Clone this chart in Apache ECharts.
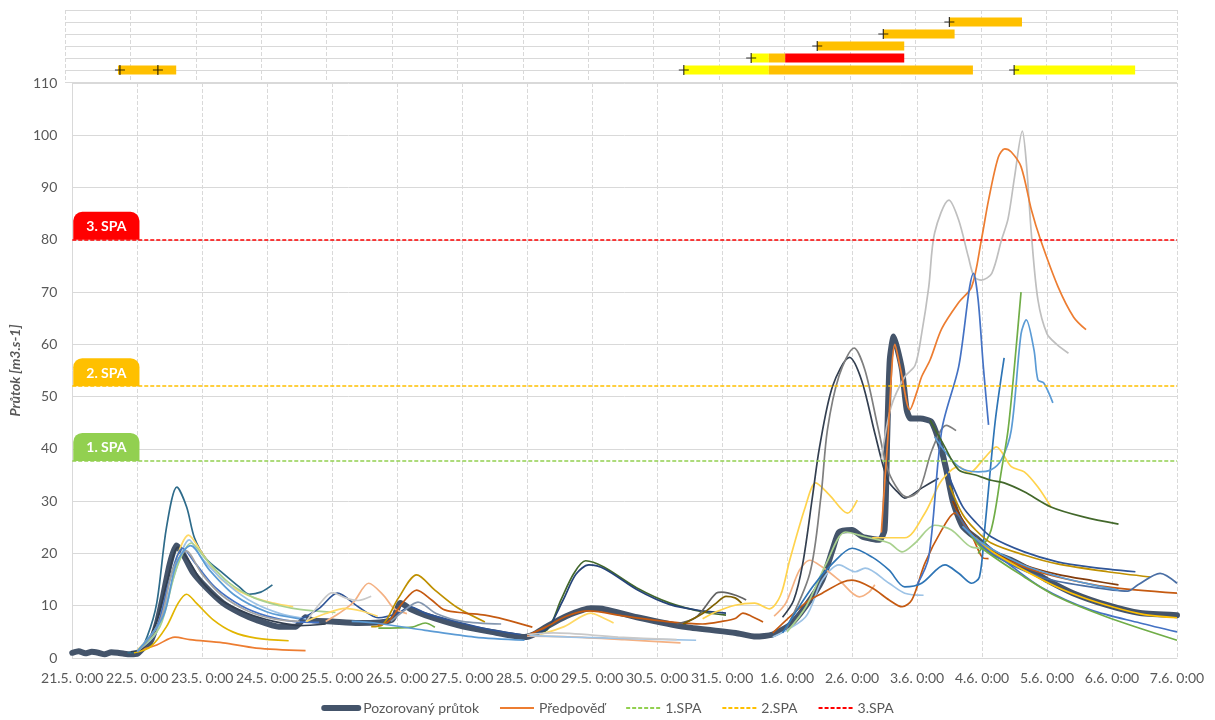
<!DOCTYPE html>
<html>
<head>
<meta charset="utf-8">
<script src="https://cdn.jsdelivr.net/npm/echarts@6/dist/echarts.min.js"></script>
<style>
  html, body { margin: 0; padding: 0; background: #fff; }
  #chart { width: 1215px; height: 720px; }
</style>
</head>
<body>
<div id="chart"></div>
<script>
// x = days since 21.5. 0:00
const tickLabels = ['21.5. 0:00', '22.5. 0:00', '23.5. 0:00', '24.5. 0:00', '25.5. 0:00', '26.5. 0:00',
  '27.5. 0:00', '28.5. 0:00', '29.5. 0:00', '30.5. 0:00', '31.5. 0:00', '1.6. 0:00', '2.6. 0:00',
  '3.6. 0:00', '4.6. 0:00', '5.6. 0:00', '6.6. 0:00', '7.6. 0:00']

const spaNames = ['1.SPA', '2.SPA', '3.SPA']
const spaLabels = ['1. SPA', '2. SPA', '3. SPA']
const spaLevels = [37.7, 52, 80]

// top panel: [row, start, end, SPA level]
const warnBars = [
  [1, 0.81, 1.70, 2],
  [1, 9.46, 10.76, 1],
  [1, 10.76, 13.88, 2],
  [1, 14.51, 16.36, 1],
  [2, 10.49, 10.76, 1],
  [2, 10.76, 11.01, 2],
  [2, 11.01, 12.83, 3],
  [3, 11.5, 12.83, 2],
  [4, 12.51, 13.6, 2],
  [5, 13.52, 14.63, 2]
]
const issueMarks = [[0.84, 1], [1.42, 1], [9.46, 1], [14.51, 1], [10.49, 2], [11.5, 3], [12.51, 4], [13.52, 5]]

// pozorovany prutok
const observed = [[0, 1.0], [0.1, 1.3], [0.2, 0.9], [0.3, 1.2], [0.4, 1.0], [0.5, 0.7], [0.6, 1.1], [0.7, 1.0],
  [0.8, 0.8], [0.9, 0.7], [1.0, 0.8], [1.1, 2.0], [1.2, 3.0], [1.3, 6.5], [1.4, 12], [1.5, 18], [1.6, 21.5],
  [1.7, 20], [1.85, 16.5], [2.06, 13.5], [2.32, 10.5], [2.6, 8.5], [2.83, 7.3], [3.18, 6], [3.44, 6],
  [3.59, 7.8], [3.7, 7.2], [4.0, 7.0], [4.4, 6.7], [4.92, 7.3], [5.05, 10.5], [5.23, 9.2], [5.43, 8.2],
  [5.93, 6.3], [6.45, 5], [6.96, 4], [7.1, 4.5], [7.3, 6], [7.6, 8], [7.98, 9.5], [8.2, 9.3], [8.69, 7.8],
  [9.45, 5.9], [10.21, 4.8], [10.52, 4.1], [10.78, 4.5], [11.04, 6.3], [11.28, 9.8], [11.54, 14.9],
  [11.7, 20.7], [11.8, 24.1], [12.0, 24.5], [12.16, 23.2], [12.42, 22.6], [12.5, 24.5], [12.54, 42],
  [12.58, 57], [12.64, 61.5], [12.7, 59], [12.77, 55], [12.84, 47.5], [12.9, 45.8], [13.05, 45.8],
  [13.22, 45.2], [13.35, 41], [13.45, 36], [13.55, 30], [13.7, 25.2], [13.94, 22.6], [14.19, 20],
  [14.45, 18.7], [14.8, 16.4], [15.0, 14.9], [15.4, 12.4], [15.93, 10.1], [16.43, 8.6], [17, 8.2]]

// predpovedi - 22.5.
const fcE1 = [[0.85, 1.0], [1.02, 1.3], [1.15, 4], [1.3, 10.5], [1.45, 25], [1.61, 32.7], [1.76, 28.9], [1.88, 23],
  [2.06, 19], [2.32, 16.2], [2.57, 13.6], [2.72, 12.2], [2.9, 12.6], [3.08, 14]]
const fcE2 = [[0.95, 1], [1.2, 2.1], [1.45, 6], [1.63, 10.5], [1.76, 12.2], [1.91, 10.5], [2.17, 7.3], [2.47, 5],
  [2.83, 3.8], [3.33, 3.3]]
const fcE3 = [[1.04, 1.5], [1.3, 2.5], [1.58, 4], [1.81, 3.5], [2.32, 2.9], [2.83, 1.9], [3.59, 1.4]]
const fcE4 = [[0.9, 1.2], [1.1, 2], [1.3, 7], [1.45, 14], [1.63, 21.2], [1.8, 18.5], [2.0, 14.5], [2.3, 11],
  [2.7, 8.5], [3.1, 7], [3.5, 6.2], [3.9, 6.5]]
const fcE5 = [[1.0, 1.5], [1.3, 6], [1.55, 17], [1.79, 23.5], [2.0, 20], [2.3, 15], [2.7, 12], [3.1, 10.5], [3.4, 9.8]]
const fcE6 = [[1.0, 1.3], [1.3, 5], [1.55, 15], [1.8, 22.6], [2.0, 19], [2.4, 14], [2.8, 10.5], [3.2, 8.5], [3.6, 7.5]]
const fcE7 = [[1.0, 1.3], [1.35, 6], [1.6, 17], [1.83, 22], [2.05, 19], [2.4, 14.5], [2.8, 11.5], [3.2, 10],
  [3.5, 9.3], [4.05, 8.7]]
const fcE8 = [[1.0, 1.2], [1.3, 6], [1.5, 15], [1.7, 21], [1.9, 18], [2.2, 13.5], [2.6, 10], [3.0, 8], [3.4, 7], [3.8, 6.8]]
const fcE9 = [[1.0, 1.2], [1.35, 7], [1.55, 17], [1.75, 20.5], [2.0, 16], [2.3, 12], [2.7, 9], [3.1, 7.5], [3.5, 7]]
const fcE10 = [[1.0, 1.3], [1.4, 8], [1.6, 18], [1.82, 21.5], [2.1, 17], [2.5, 12], [3.0, 8.8], [3.5, 7.5]]

// 25.5. - 28.5.
const fcM1 = [[3.5, 7.3], [3.8, 9.5], [4.08, 12.4], [4.4, 9.8], [4.71, 7.7], [5.0, 8.5], [5.2, 9.8], [5.45, 8.5],
  [5.9, 7], [6.4, 5.5], [6.9, 4.5]]
const fcM2 = [[3.9, 7], [4.1, 8.5], [4.33, 10.7], [4.56, 14.3], [4.79, 12], [4.95, 9.5], [5.15, 8.5]]
const fcM3 = [[3.6, 7], [3.85, 11], [4.0, 12.5], [4.2, 11.5], [4.4, 11], [4.6, 11.8]]
const fcM4 = [[3.6, 7], [3.9, 8.5], [4.2, 9.5], [4.45, 9], [4.7, 8]]
const fcM5 = [[4.6, 6], [4.77, 6.3], [5.02, 11.5], [5.3, 15.9], [5.58, 13], [5.93, 9.6], [6.35, 6.9]]
const fcM6 = [[4.7, 6.3], [4.86, 6.9], [5.08, 10.5], [5.3, 13], [5.53, 11.1], [5.73, 9.2], [6.04, 8.6], [6.35, 8.2],
  [6.65, 7.4], [7.08, 5.9]]
const fcM7 = [[4.71, 5.7], [5.23, 5.9], [5.43, 6.7], [5.58, 5.9]]
const fcM8 = [[4.3, 7], [4.66, 6.7], [5.43, 5.3], [6.19, 4], [6.96, 3.4]]
const fcM9 = [[4.9, 7], [5.1, 9], [5.32, 10.7], [5.6, 8.5], [6.0, 7], [6.6, 6.5]]

// 29.5. - 1.6.
const fcP1 = [[7.0, 4.5], [7.31, 5.4], [7.52, 11.1], [7.72, 16.2], [7.9, 18.6], [8.18, 17.4], [8.69, 13.4],
  [9.2, 10.5], [9.71, 8.8], [10.06, 8.2]]
const fcP2 = [[7.0, 4.5], [7.3, 5.5], [7.55, 11], [7.75, 16], [7.95, 17.8], [8.2, 17], [8.7, 13], [9.2, 10.2],
  [9.7, 9], [10.06, 8.6]]
const fcP3 = [[7.2, 4.5], [7.57, 6], [7.98, 8.6], [8.15, 7.8], [8.33, 6.7]]
const fcP4 = [[7.0, 4.2], [7.57, 4.1], [8.5, 3.5], [9.36, 2.9]]
const fcP5 = [[7.0, 4.3], [7.67, 4], [8.6, 3.7], [9.6, 3.4]]
const fcP6 = [[7.0, 4.3], [7.3, 6], [7.6, 8], [7.95, 9], [8.5, 8], [9.2, 6.9], [9.7, 6.5], [10.0, 7], [10.21, 7.6],
  [10.32, 8.6], [10.45, 8], [10.63, 6.9]]
const fcP7 = [[9.3, 6.5], [9.6, 7.8], [9.91, 12.4], [10.0, 12.6], [10.21, 12], [10.37, 11.1]]
const fcP8 = [[9.4, 6.5], [9.7, 8.5], [9.91, 10.5], [10.06, 11.8], [10.2, 11.5], [10.3, 10.5]]
const fcP9 = [[9.7, 7.5], [9.9, 8.8], [10.2, 10.1], [10.5, 10.5], [10.73, 9.4], [10.9, 12], [11.04, 18.7],
  [11.28, 28.9], [11.44, 33.5], [11.65, 31.2], [11.93, 27.7], [12.08, 30.2]]
const fcP10 = [[7.0, 4.5], [7.4, 4.8], [8.4, 4], [9.3, 3.5]]

// 1.6. - 4.6.
const fcB1 = [[10.93, 7.8], [11.1, 11], [11.24, 18], [11.39, 30.8], [11.5, 40.4], [11.7, 52], [11.96, 57.5],
  [12.15, 53], [12.35, 43], [12.55, 34], [12.72, 31.5], [12.81, 30.6], [13.07, 32.5], [13.33, 34.4]]
const fcB2 = [[10.98, 5.4], [11.35, 16.2], [11.52, 30.8], [11.62, 43.6], [11.8, 54], [12.03, 59.3], [12.2, 55],
  [12.4, 44], [12.55, 36], [12.72, 32], [12.85, 30.8], [13.03, 32], [13.23, 39.8], [13.45, 44.5], [13.6, 43.5]]
const fcB3 = [[12.45, 38], [12.6, 48], [12.81, 53.8], [12.97, 56], [13.07, 62], [13.18, 71], [13.27, 81.3],
  [13.49, 87.6], [13.64, 83.8], [13.79, 76.7], [13.88, 72.9], [13.99, 72.3], [14.15, 73.6], [14.3, 80],
  [14.4, 84], [14.5, 92], [14.62, 100.8], [14.68, 95], [14.76, 81], [14.86, 68.5], [15.0, 62], [15.15, 60],
  [15.33, 58.3]]
const fcB4 = [[12.45, 24], [12.55, 42], [12.66, 60], [12.75, 55], [12.89, 47.5], [13.0, 51], [13.07, 53.8],
  [13.2, 57], [13.38, 63], [13.64, 68], [13.84, 71], [13.99, 80], [14.1, 87.6], [14.25, 95.8], [14.35, 97.4],
  [14.45, 96.8], [14.6, 94], [14.76, 85.7], [14.9, 80], [15.17, 71], [15.41, 65.2], [15.6, 62.8]]
const fcB5 = [[13.0, 14], [13.18, 19.3], [13.38, 43.6], [13.64, 55.7], [13.87, 73.6], [13.94, 68.5],
  [14.02, 55.7], [14.1, 44.6]]
const fcB6 = [[10.93, 4.8], [11.39, 13.6], [11.7, 18.1], [12.0, 21], [12.31, 19.3], [12.57, 16.8], [12.81, 13.6],
  [13.07, 14.3], [13.43, 17.8], [13.64, 16.2], [13.84, 14.3], [13.96, 15.5], [14.04, 24.5], [14.2, 45],
  [14.34, 57.4]]
const fcB7 = [[13.27, 42.3], [13.64, 36.6], [13.94, 35.6], [14.14, 36], [14.3, 38], [14.45, 43.6], [14.6, 62],
  [14.68, 64.7], [14.8, 58.9], [14.86, 53.2], [14.95, 52.6], [15.09, 48.8]]
const fcB8 = [[13.94, 20], [14.14, 24.5], [14.3, 36], [14.4, 43.6], [14.5, 56], [14.6, 70]]
const fcB9 = [[11.0, 5], [11.3, 10], [11.6, 18], [11.9, 24.1], [12.2, 23.2], [12.57, 22], [12.77, 20.3],
  [12.97, 22], [13.27, 25.4], [13.53, 24.5], [13.84, 21.2], [14.04, 21]]
const fcB10 = [[12.31, 23], [12.81, 23], [13.12, 27.7], [13.38, 34], [13.64, 36.6], [13.8, 35.4], [14.04, 38.3],
  [14.22, 40.4], [14.45, 36.6], [14.65, 35.6], [14.86, 32.7], [15.06, 28.9]]
const fcB11 = [[13.2, 45.5], [13.4, 41], [13.64, 36], [13.9, 35], [14.14, 34], [14.34, 33.5], [14.65, 31.8],
  [15.06, 28.9], [15.56, 27], [16.1, 25.6]]
const fcB12 = [[10.78, 4], [11.28, 7.8], [11.54, 14.9], [11.8, 17.8], [12.05, 16.5], [12.2, 17.2], [12.57, 14.3],
  [12.81, 12.4], [13.1, 12]]
const fcB13 = [[10.8, 8], [10.98, 10.5], [11.19, 16.8], [11.35, 18.7], [11.54, 17.4], [11.8, 14.9], [12.11, 11.7],
  [12.26, 12.6], [12.35, 14]]
const fcB14 = [[10.78, 4.8], [11.28, 10.5], [11.54, 12.4], [11.85, 14.5], [12.0, 14.9], [12.31, 13.4],
  [12.57, 11.1], [12.77, 9.8], [12.92, 11.1], [13.12, 18.1], [13.38, 24.5], [13.58, 27.7], [13.8, 24.5],
  [14.0, 19.3], [14.1, 19]]

// 4.6. - 7.6.
const fcL1 = [[13.45, 36], [13.7, 29], [13.9, 26], [14.14, 23.2], [14.65, 20.3], [15.16, 18.4], [15.67, 17.4], [16.36, 16.5]]
const fcL2 = [[13.5, 33], [13.7, 27.5], [13.9, 24.5], [14.14, 22], [14.65, 19.7], [15.16, 18], [15.93, 16.5], [16.59, 15.5]]
const fcL3 = [[13.55, 30], [13.8, 24], [14.14, 20.7], [14.65, 17.4], [15.16, 15.5], [15.93, 13.6], [17, 12.4]]
const fcL4 = [[13.55, 30], [13.8, 24.5], [14.14, 20.5], [14.65, 17.8], [15.16, 16], [15.7, 14.8], [16.1, 14]]
const fcL5 = [[13.6, 28], [13.85, 23.5], [14.14, 20], [14.9, 15.5], [15.67, 13.6], [16.24, 12.8], [16.4, 14],
  [16.74, 16.2], [17, 14.3]]
const fcL6 = [[13.7, 25.2], [14.0, 21.5], [14.3, 19], [14.9, 13.6], [15.67, 9.2], [16.43, 6.7], [17, 5]]
const fcL7 = [[13.8, 24], [14.0, 21], [14.65, 15.5], [15.16, 11.7], [15.93, 7.8], [17, 3.4]]
const fcL8 = [[13.9, 23], [14.2, 20], [15.0, 14.5], [15.5, 11.8], [16.0, 9.8], [16.5, 8.3], [17, 7.7]]
const fcL9 = [[13.7, 25.2], [14.0, 22], [14.6, 18], [15.2, 15.5], [15.7, 14], [16.1, 13]]

const font = 'Lato, "Noto Sans", sans-serif'
const spaColors = ['#FFFF00', '#FFC000', '#FF0000']
const spaLineColors = ['#92D050', '#FFC000', '#FF0000']

const forecasts = [
  [fcE3, '#ED7D31'], [fcE1, '#2E6B8A'], [fcE2, '#E2B500'], [fcE4, '#333F50'], [fcE5, '#FFD966'],
  [fcE6, '#9DC3E6'], [fcE7, '#A9D18E'], [fcE8, '#4472C4'], [fcE9, '#A5A5A5'], [fcE10, '#5B9BD5'],
  [fcM1, '#2F5597'], [fcM2, '#F4B183'], [fcM3, '#C9C9C9'], [fcM4, '#FFD966'], [fcM5, '#BF9000'],
  [fcM6, '#C55A11'], [fcM7, '#70AD47'], [fcM8, '#5B9BD5'], [fcM9, '#8497B0'],
  [fcP1, '#43682B'], [fcP2, '#264478'], [fcP3, '#FFD966'], [fcP4, '#F4B183'], [fcP5, '#9DC3E6'],
  [fcP6, '#C55A11'], [fcP7, '#636363'], [fcP8, '#7F6000'], [fcP9, '#FFD34D'], [fcP10, '#C9C9C9'],
  [fcB12, '#9DC3E6'], [fcB13, '#F4B183'], [fcB14, '#C55A11'], [fcB9, '#A9D18E'], [fcB10, '#FFD34D'],
  [fcB1, '#333F50'], [fcB2, '#7F7F7F'], [fcB3, '#BFBFBF'], [fcB4, '#ED7D31'], [fcB5, '#4472C4'],
  [fcB6, '#2E75B6'], [fcB7, '#5B9BD5'], [fcB8, '#70AD47'], [fcB11, '#43682B'],
  [fcL1, '#2F5597'], [fcL2, '#BF9000'], [fcL3, '#C55A11'], [fcL4, '#843C0C'], [fcL5, '#4A6FA5'],
  [fcL6, '#4472C4'], [fcL7, '#70AD47'], [fcL8, '#FFC000'], [fcL9, '#5B9BD5']
]

const chart = echarts.init(document.getElementById('chart'))

const series = []
series.push({
  name: 'Pozorovaný průtok',
  type: 'line',
  xAxisIndex: 1,
  yAxisIndex: 1,
  data: observed,
  smooth: 0.2,
  symbol: 'none',
  lineStyle: { color: '#44546A', width: 6, cap: 'round' },
  itemStyle: { color: '#44546A' }
})
forecasts.forEach(([pts, color]) => {
  series.push({
    name: 'Předpověď',
    type: 'line',
    xAxisIndex: 1,
    yAxisIndex: 1,
    data: pts,
    smooth: 0.3,
    symbol: 'none',
    lineStyle: { color, width: 1.7 },
    itemStyle: { color }
  })
})
spaNames.forEach((name, i) => {
  series.push({
    name,
    type: 'line',
    xAxisIndex: 1,
    yAxisIndex: 1,
    data: [],
    symbol: 'none',
    lineStyle: { color: spaLineColors[i], type: [4, 2], width: 1.5 },
    itemStyle: { color: spaLineColors[i] },
    markLine: {
      silent: true,
      symbol: 'none',
      data: [{ yAxis: spaLevels[i] }],
      lineStyle: { color: spaLineColors[i], type: [4, 2], width: 1.5 },
      label: {
        show: true,
        position: 'insideStartTop',
        formatter: spaLabels[i],
        color: '#fff',
        fontWeight: 'bold',
        fontSize: 14,
        fontFamily: font,
        backgroundColor: spaLineColors[i],
        padding: [8, 13, 6, 13],
        borderRadius: [9, 9, 0, 0],
        distance: [1, 0]
      }
    }
  })
})
// horni panel - varovani
series.push({
  type: 'custom',
  xAxisIndex: 0,
  yAxisIndex: 0,
  data: warnBars,
  encode: { x: [1, 2], y: 0 },
  renderItem: (params, api) => {
    const s = api.coord([api.value(1), api.value(0)])
    const e = api.coord([api.value(2), api.value(0)])
    const h = api.size([0, 1])[1] * 0.75
    return {
      type: 'rect',
      shape: { x: s[0], y: s[1] - h / 2, width: e[0] - s[0], height: h },
      style: { fill: spaColors[api.value(3) - 1] }
    }
  }
})
series.push({
  type: 'scatter',
  xAxisIndex: 0,
  yAxisIndex: 0,
  data: issueMarks,
  symbol: 'path://M4.4,0H5.6V4.4H10V5.6H5.6V10H4.4V5.6H0V4.4H4.4Z',
  symbolSize: 10,
  itemStyle: { color: '#000' },
  z: 5
})

const option = {
  animation: false,
  textStyle: { fontFamily: font },
  grid: [
    { left: 65, right: 38, top: 10, height: 72 },
    { left: 65, right: 38, top: 83, bottom: 62 }
  ],
  legend: {
    bottom: 0,
    itemGap: 20,
    itemWidth: 34,
    itemHeight: 10,
    itemStyle: { opacity: 0 },
    textStyle: { color: '#595959', fontSize: 14, fontFamily: font },
    data: [
      { name: 'Pozorovaný průtok', lineStyle: { width: 6, cap: 'round' } },
      { name: 'Předpověď', lineStyle: { color: '#ED7D31', width: 2 } },
      '1.SPA', '2.SPA', '3.SPA'
    ]
  },
  xAxis: [
    {
      gridIndex: 0, type: 'value', min: 0, max: 17, interval: 1,
      axisLabel: { show: false }, axisLine: { show: false }, axisTick: { show: false },
      splitLine: { lineStyle: { color: '#D9D9D9', type: 'dashed' } }
    },
    {
      gridIndex: 1, type: 'value', min: 0, max: 17, interval: 1,
      axisLabel: { formatter: v => tickLabels[v], color: '#595959', fontSize: 14, margin: 13 },
      axisLine: { lineStyle: { color: '#D9D9D9' } },
      axisTick: { show: false },
      splitLine: { lineStyle: { color: '#D9D9D9', type: 'dashed' } }
    }
  ],
  yAxis: [
    {
      gridIndex: 0, type: 'value', min: 0, max: 6, interval: 1,
      axisLabel: { show: false }, axisLine: { show: false }, axisTick: { show: false },
      splitLine: { lineStyle: { color: '#D9D9D9' } }
    },
    {
      gridIndex: 1, type: 'value', min: 0, max: 110, interval: 10,
      name: 'Průtok [m3.s-1]',
      nameLocation: 'middle',
      nameGap: 44,
      nameTextStyle: { color: '#595959', fontSize: 14, fontStyle: 'italic', fontWeight: 'bold' },
      axisLabel: { color: '#595959', fontSize: 14, margin: 15 },
      axisLine: { show: true, lineStyle: { color: '#D9D9D9' } },
      axisTick: { show: false },
      splitLine: { lineStyle: { color: '#D9D9D9' } }
    }
  ],
  series
}
chart.setOption(option)
</script>
</body>
</html>
